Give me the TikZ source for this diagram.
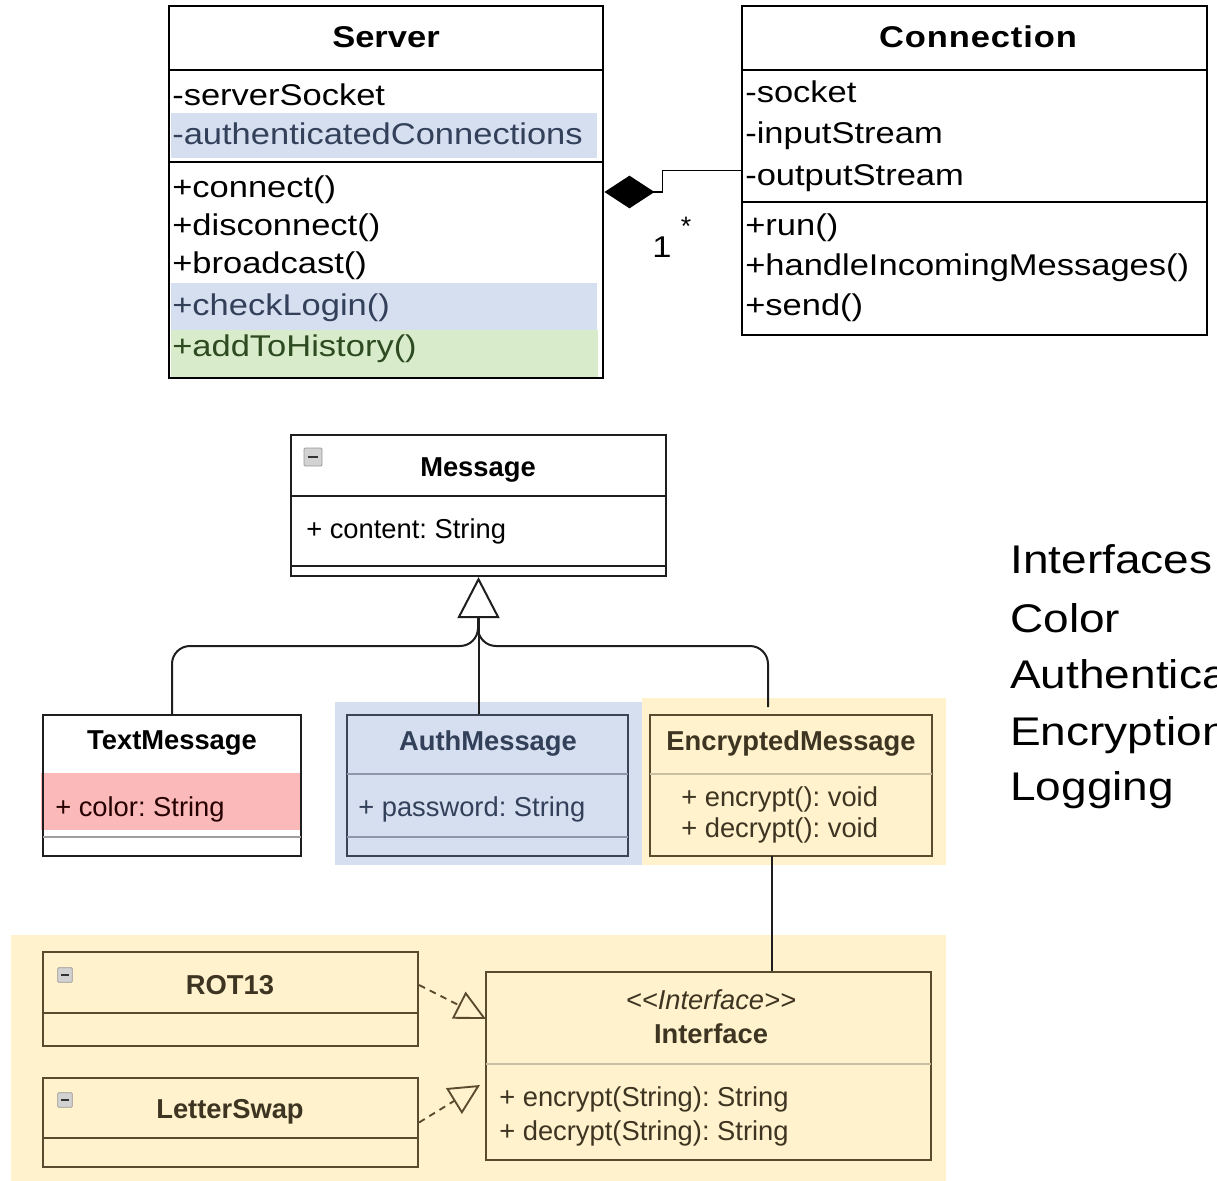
\documentclass[tikz,border=0pt]{standalone}
\usepackage{fontspec}
\setmainfont{Liberation Sans}
\newfontfamily\widefont[FakeStretch=1.15]{Liberation Sans}
\usetikzlibrary{arrows.meta,fit}
\frenchspacing

\definecolor{bandblue}{HTML}{D6DFF0}
\definecolor{textblue}{HTML}{33405A}
\definecolor{bandgreen}{HTML}{D8ECCB}
\definecolor{textgreen}{HTML}{2D4A20}
\definecolor{bandpink}{HTML}{FBB9B9}
\definecolor{bgyellow}{HTML}{FFF2CC}
\definecolor{lineyellow}{HTML}{5A4A2E}
\definecolor{textyellow}{HTML}{3D3422}
\definecolor{sepyellow}{HTML}{C9BFA3}
\definecolor{lineblue}{HTML}{3B4455}
\definecolor{sepblue}{HTML}{8C97AA}
\definecolor{inkdark}{HTML}{1E1E1E}

\begin{document}
\begin{tikzpicture}[x=0.75pt,y=-0.75pt,
  topbox/.style={draw=black,line width=2.2pt,inner sep=0pt},
  lowbox/.style={draw=inkdark,line width=1.6pt,inner sep=0pt},
  toptext/.style={anchor=base west,inner sep=0pt,font=\widefont\fontsize{22.5pt}{27pt}\selectfont},
  toptitle/.style={inner sep=0pt,font=\widefont\bfseries\fontsize{22.5pt}{27pt}\selectfont},
  lowtext/.style={anchor=base west,inner sep=0pt,font=\fontsize{20.5pt}{24pt}\selectfont},
  lowtitle/.style={inner sep=0pt,font=\bfseries\fontsize{20.5pt}{24pt}\selectfont},
  sidetext/.style={anchor=base west,inner sep=0pt,font=\widefont\fontsize{30pt}{36pt}\selectfont},
  icon/.style={draw=gray!80,fill=gray!35,rounded corners=0.8pt,inner sep=0pt,line width=0.6pt,
    minimum size=#1,
    path picture={\draw[line width=1.3pt,gray!40!black]
      ([xshift=-0.28*#1]path picture bounding box.center) --
      ([xshift=0.28*#1]path picture bounding box.center);}},
  genline/.style={draw=inkdark,line width=1.5pt},
  realize/.style={draw=lineyellow,line width=1.4pt,dash pattern=on 5pt off 4pt,
    -{Triangle[open,length=23pt,width=22.5pt,line width=1.4pt]}}
]
\useasboundingbox (0,0) rectangle (1217,1181);

% ---------------- Server ----------------
\fill[bandblue]  (171,113) rectangle (597,158);
\fill[bandblue]  (171,283) rectangle (597,330);
\fill[bandgreen] (171,330) rectangle (598,377);
\node[fit={(169,6)(603,378)},topbox] (server) {};
\draw[line width=2.2pt] (169,70) -- (603,70);
\draw[line width=2.2pt] (169,162) -- (603,162);
\node[toptitle] (serverTitle) at (386,37) {Server};
\node[toptext] (sAttr1) at (172,105) {-serverSocket};
\node[toptext,text=textblue] (sAttr2) at (172,144) {-authenticatedConnections};
\node[toptext] (sOp1) at (172,197) {+connect()};
\node[toptext] (sOp2) at (172,235) {+disconnect()};
\node[toptext] (sOp3) at (172,273) {+broadcast()};
\node[toptext,text=textblue] (sOp4) at (172,315) {+checkLogin()};
\node[toptext,text=textgreen] (sOp5) at (172,356) {+addToHistory()};

% ---------------- Connection ----------------
\node[fit={(742,6)(1207,335)},topbox] (conn) {};
\draw[line width=2.2pt] (742,70) -- (1207,70);
\draw[line width=2.2pt] (742,202) -- (1207,202);
\node[toptitle] (connTitle) at (978,37) {\addfontfeatures{LetterSpace=3}Connection};
\node[toptext] (cAttr1) at (745,103) {-socket};
\node[toptext] (cAttr2) at (745,143) {-inputStream};
\node[toptext] (cAttr3) at (745,185) {-outputStream};
\node[toptext] (cOp1) at (745,235) {+run()};
\node[toptext] (cOp2) at (745,275) {+handleIncomingMessages()};
\node[toptext] (cOp3) at (745,315) {+send()};

% composition Server <>-- Connection
\draw[line width=1.1pt,{Diamond[length=37.5pt,width=24.5pt]}-]
  (server.east) -- ++(58,0) |- (conn.west);
\node[inner sep=0pt,font=\widefont\fontsize{22.5pt}{27pt}\selectfont] (multOne) at (662,247) {1};
\node[inner sep=0pt,font=\fontsize{20pt}{24pt}\selectfont] (multMany) at (686,226) {*};

% ---------------- Message hierarchy ----------------
\node[fit={(291,435)(666,576)},lowbox] (msg) {};
\draw[line width=1.6pt,inkdark] (291,496) -- (666,496);
\draw[line width=1.6pt,inkdark] (291,566) -- (666,566);
\node[icon=13.5pt] (msgIcon) at (313,457) {};
\node[lowtitle] (msgTitle) at (478,470) {Message};
\node[lowtext] (msgAttr) at (306,538) {+ content: String};

% TextMessage
\fill[bandpink] (41,773) rectangle (300,830);
\node[fit={(43,715)(301,856)},lowbox] (tm) {};
\draw[line width=1.4pt,gray!75] (43,837) -- (301,837);
\node[lowtitle] (tmTitle) at (172,743) {TextMessage};
\node[lowtext,text=black!85!red] (tmAttr) at (55,816) {+ color: String};

% AuthMessage
\fill[bandblue] (335,702) rectangle (642,865);
\node[fit={(347,715)(628,856)},lowbox,draw=lineblue] (auth) {};
\draw[line width=1.4pt,sepblue] (347,774) -- (628,774);
\draw[line width=1.4pt,sepblue] (347,837) -- (628,837);
\node[lowtitle,text=textblue] (authTitle) at (488,743) {AuthMessage};
\node[lowtext,text=textblue] (authAttr) at (358,816) {+ password: String};

% EncryptedMessage
\fill[bgyellow] (642,698) rectangle (946,865);
\node[fit={(650,715)(932,856)},lowbox,draw=lineyellow] (enc) {};
\draw[line width=1.4pt,sepyellow] (650,774) -- (932,774);
\node[lowtitle,text=textyellow] (encTitle) at (791,743) {EncryptedMessage};
\node[lowtext,text=textyellow] (encOp1) at (681,806) {+ encrypt(): void};
\node[lowtext,text=textyellow] (encOp2) at (681,837) {+ decrypt(): void};

% generalization to Message
\coordinate (genHub) at (478,646);
\coordinate (triBase) at (478,618);
\coordinate (encIn) at (768,707);
\draw[genline,rounded corners=13.5pt] (tm.north) |- (genHub) -- (triBase);
\draw[genline,rounded corners=13.5pt] (encIn) |- (genHub) -- (triBase);
\draw[genline,-{Triangle[open,length=30.75pt,width=31.5pt,line width=1.5pt]}]
  (msg.south |- auth.north) -- (msg.south);

% ---------------- Encryption package ----------------
\fill[bgyellow] (11,935) rectangle (946,1181);

\node[fit={(43,952)(418,1046)},lowbox,draw=lineyellow] (rot) {};
\draw[line width=1.6pt,lineyellow] (43,1013) -- (418,1013);
\node[icon=11pt] (rotIcon) at (65,975) {};
\node[lowtitle,text=textyellow] (rotTitle) at (230,985) {ROT13};

\node[fit={(43,1078)(418,1167)},lowbox,draw=lineyellow] (lsw) {};
\draw[line width=1.6pt,lineyellow] (43,1138) -- (418,1138);
\node[icon=11pt] (lswIcon) at (65,1100) {};
\node[lowtitle,text=textyellow] (lswTitle) at (230,1112) {LetterSwap};

\node[fit={(486,972)(931,1160)},lowbox,draw=lineyellow] (iface) {};
\draw[line width=1.4pt,sepyellow] (486,1064) -- (931,1064);
\node[inner sep=0pt,font=\itshape\fontsize{20.5pt}{24pt}\selectfont,text=textyellow] (ifaceStereo) at (711,1000) {{<}{<}Interface{>}{>}};
\node[lowtitle,text=textyellow] (ifaceTitle) at (711,1034) {Interface};
\node[lowtext,text=textyellow] (ifaceOp1) at (499,1106) {+ encrypt(String): String};
\node[lowtext,text=textyellow] (ifaceOp2) at (499,1140) {+ decrypt(String): String};

% association EncryptedMessage -- Interface
\coordinate (encOut) at (772,856);
\draw[genline] (encOut) -- (encOut |- iface.north);

% realizations
\coordinate (ifaceIn1) at (486,1019);
\coordinate (ifaceIn2) at (480,1085);
\draw[realize] (rot.east |- rotTitle) -- (ifaceIn1);
\draw[realize] (lsw.east) -- (ifaceIn2);

% ---------------- side notes ----------------
\node[sidetext] (note1) at (1010,573) {Interfaces};
\node[sidetext] (note2) at (1010,632) {Color};
\node[sidetext] (note3) at (1010,688) {Authentication};
\node[sidetext] (note4) at (1010,745) {Encryption};
\node[sidetext] (note5) at (1010,800) {Logging};
\end{tikzpicture}
\end{document}
